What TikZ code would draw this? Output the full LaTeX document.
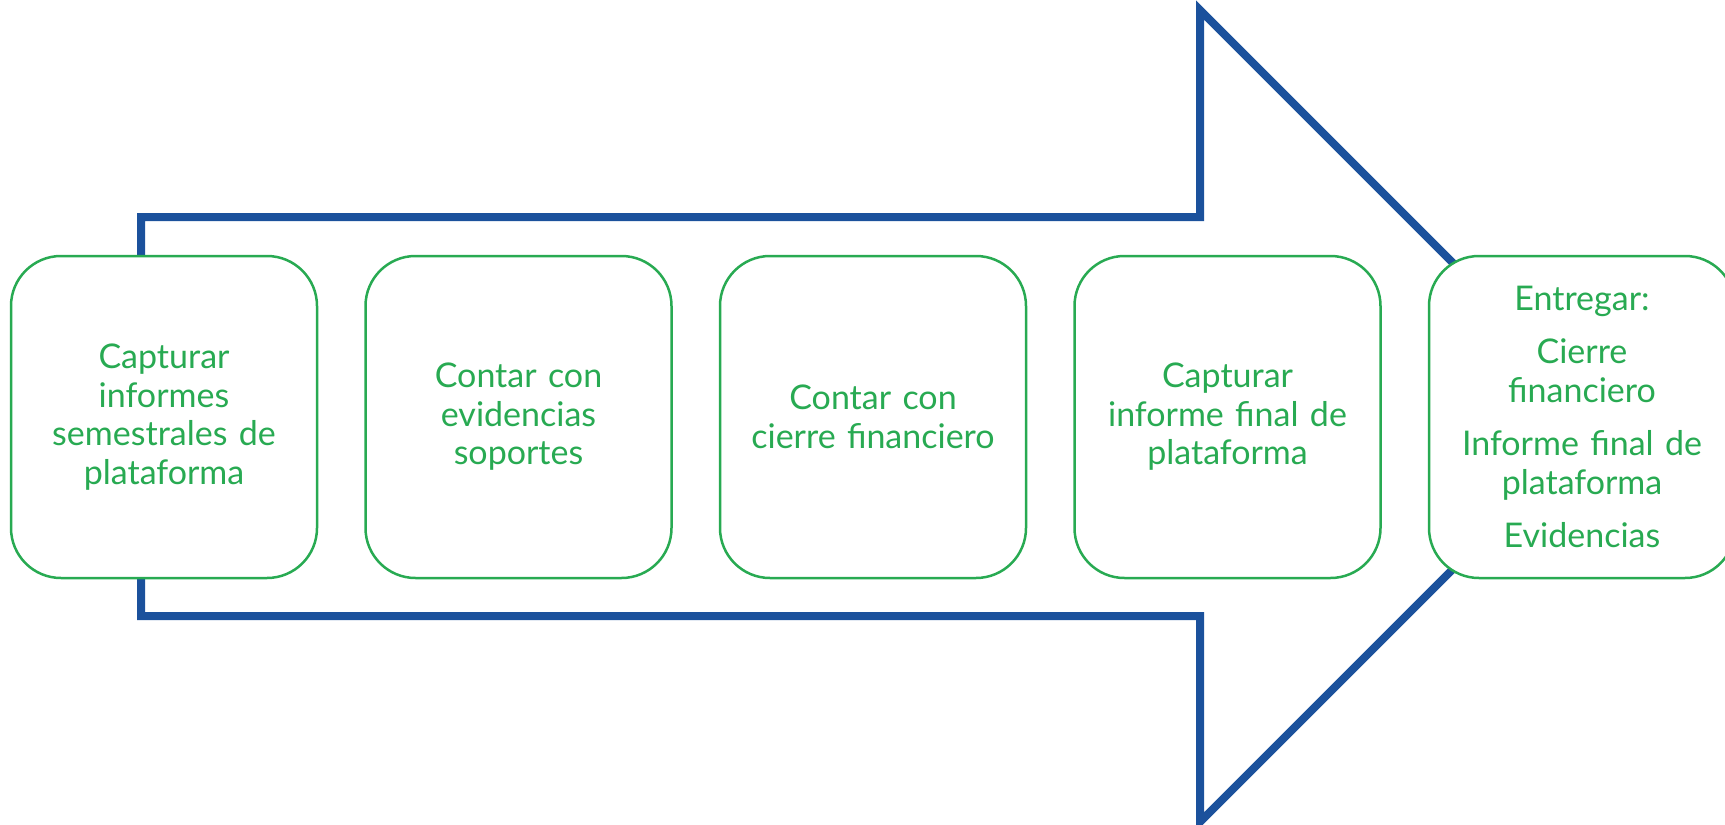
\documentclass[tikz,border=0pt]{standalone}
\usepackage{fontspec}
\setmainfont{Lato}
\usepackage{tikz}

\definecolor{boxgreen}{RGB}{40,170,82}
\definecolor{arrowblue}{RGB}{27,81,156}

\begin{document}
\begin{tikzpicture}[x=1pt, y=-1pt, node distance = 354.5pt, auto,
  stage/.style={rectangle, draw=boxgreen, line width=2.5pt, fill=white, text=boxgreen, text width=295pt, text centered, inner sep=0pt, rounded corners=50pt, minimum width=306pt, minimum height=322pt, font=\fontsize{34}{38.5}\selectfont}]
\useasboundingbox (0,0) rectangle (1725,825);

% big arrow behind the boxes
\draw [arrowblue, line width=8pt, line join=miter] (141,217) -- (1200,217) -- (1200,10) -- (1606,416) -- (1200,822) -- (1200,616) -- (141,616) -- cycle;

\node [stage] (capturar) at (164,417) {Capturar\\ informes\\ semestrales de\\ plataforma};
\node [stage, right of=capturar] (evidencias) {Contar con\\ evidencias\\ soportes};
\node [stage, right of=evidencias] (cierre) {Contar con\\ cierre financiero};
\node [stage, right of=cierre] (informe) {Capturar\\ informe final de\\ plataforma};
\node [stage, right of=informe] (entregar) {Entregar:\\[15pt] Cierre\\ financiero\\[15pt] Informe final de\\ plataforma\\[15pt] Evidencias};

\end{tikzpicture}
\end{document}
